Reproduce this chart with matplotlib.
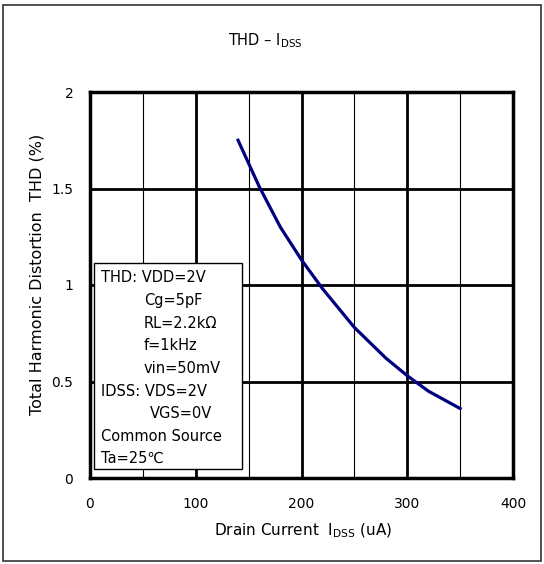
import matplotlib.pyplot as plt
from matplotlib.patches import Rectangle

# THD vs IDSS
idss = [140, 160, 180, 200, 220, 250, 280, 300, 320, 350]
thd = [1.75, 1.51, 1.30, 1.13, 0.98, 0.78, 0.62, 0.53, 0.45, 0.36]

cond_lines = ['THD: VDD=2V', 'Cg=5pF', 'RL=2.2k\u03a9', 'f=1kHz', 'vin=50mV',
              'IDSS: VDS=2V', 'VGS=0V', 'Common Source', 'Ta=25\u2103']
cond_indent = [0, 43, 43, 43, 43, 0, 49, 0, 0]

plt.rcParams['font.family'] = ['DejaVu Sans', 'Noto Sans CJK JP']
plt.rcParams['mathtext.fontset'] = 'dejavusans'

W, H = 544, 564
fig = plt.figure(figsize=(W / 100, H / 100), dpi=100)
ax = fig.add_axes([90 / W, 1 - 478 / H, 423 / W, 386 / H])

# outer frame
fig.patches.append(Rectangle((3 / W, 3 / H), 538 / W, 556 / H, transform=fig.transFigure,
                             fill=False, edgecolor='#333333', lw=1.2))

ax.set_xlim(0, 400)
ax.set_ylim(0, 2)
ax.set_xticks([0, 100, 200, 300, 400])
ax.set_yticks([0, 0.5, 1, 1.5, 2])
ax.set_yticklabels(['0', '0.5', '1', '1.5', '2'])
ax.set_xticks([50, 150, 250, 350], minor=True)
ax.tick_params(which='both', length=0, labelsize=10)
ax.tick_params(axis='x', pad=14)
ax.tick_params(axis='y', pad=12)

ax.grid(which='major', color='black', lw=2)
ax.grid(which='minor', axis='x', color='black', lw=0.8)
for s in ax.spines.values():
    s.set_linewidth(2.5)

ax.plot(idss, thd, color='#000080', lw=2.3, zorder=5)

# conditions box
ax.add_patch(Rectangle((94 / W, 1 - 469 / H), 148 / W, 206 / H, transform=fig.transFigure,
                       facecolor='white', edgecolor='black', lw=1, zorder=6))
y0 = 278
for i, line in enumerate(cond_lines):
    fig.text((101 + cond_indent[i]) / W, 1 - (y0 + i * 22.6) / H, line, fontsize=10.5,
             va='center', ha='left', zorder=7)

fig.text(265 / W, 1 - 41 / H, r'THD – I$_{\mathregular{DSS}}$', fontsize=10.5, ha='center', va='center')
fig.text(303 / W, 1 - 531 / H, r'Drain Current  I$_{\mathregular{DSS}}$ (uA)', fontsize=11,
         ha='center', va='center')
fig.text(37 / W, 1 - 274 / H, 'Total Harmonic Distortion  THD (%)', fontsize=11.5,
         rotation=90, ha='center', va='center')

fig.savefig('out.png', dpi=100)
